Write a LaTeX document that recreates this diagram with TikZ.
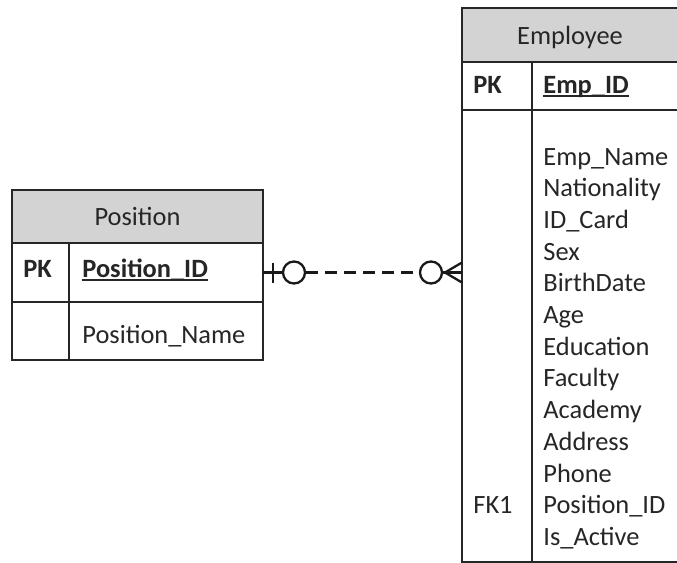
\documentclass[tikz,border=0pt]{standalone}
\usepackage{fontspec}
\setmainfont{Carlito}
\usetikzlibrary{positioning,calc}
\definecolor{hdrgray}{HTML}{D3D3D3}
\definecolor{inkgray}{HTML}{262626}

\begin{document}
\begin{tikzpicture}[
    x=0.5pt, y=-0.5pt,
    every node/.style={text=inkgray, font=\fontsize{13.2}{15.9}\selectfont},
    box/.style={draw=black!85, line width=1pt, inner sep=0pt, outer sep=0pt},
    head/.style={box, fill=hdrgray, text depth=0pt},
    keytag/.style={anchor=base west, inner sep=0pt, font=\fontsize{13.2}{15.9}\selectfont\bfseries},
    field/.style={anchor=base west, inner sep=0pt},
    keyrule/.style={line width=0.8pt, inkgray},
    rel/.style={line width=1.15pt, black!90},
    ring/.style={circle, draw=black!90, line width=1.15pt, fill=white, minimum size=11pt, inner sep=0pt}
]
\fill[white] (0,0) rectangle (677,563);
\useasboundingbox (0,0) rectangle (677,563);

% Position
\node[head, minimum width=125.5pt, minimum height=26.5pt] (posHead) at (137.5,216.5) {Position};
\node[box, minimum width=125.5pt, minimum height=29.5pt, below=0pt of posHead] (posRow) {};
\node[box, minimum width=125.5pt, minimum height=29pt, below=0pt of posRow] (posRest) {};
\draw[box] ([xshift=28.5pt]posRow.north west) -- ([xshift=28.5pt]posRest.south west);

\node[keytag] (posPK) at (23,277) {PK};
\node[keytag] (posID) at (82,277) {Position\_ID};
\draw[keyrule] ([yshift=-1.6pt]posID.base west) -- ([yshift=-1.6pt]posID.base east);
\node[field] (posName) at (82,343) {Position\_Name};

% Employee
\node[head, minimum width=108pt, minimum height=27pt, anchor=north west] (empHead) at (462,8) {Employee};
\node[box, minimum width=108pt, minimum height=24pt, below=0pt of empHead] (empRow) {};
\node[box, minimum width=108pt, minimum height=226pt, below=0pt of empRow] (empRest) {};
\draw[box] ([xshift=35pt]empHead.south west) -- ([xshift=35pt]empRest.south west);

\node[keytag] (empPK) at (473,93) {PK};
\node[keytag] (empID) at (543,93) {Emp\_ID};
\draw[keyrule] ([yshift=-1.6pt]empID.base west) -- ([yshift=-1.6pt]empID.base east);
\foreach \f [count=\i] in {Emp\_Name, Nationality, ID\_Card, Sex, BirthDate, Age,
    Education, Faculty, Academy, Address, Phone, Position\_ID, Is\_Active}
  \node[field] (empF\i) at (543,{165+31.7*(\i-1)}) {\f};
\node[field] (empFK) at (473,0 |- empF12.base) {FK1};

% relation
\node[ring] (oneRing) at (294,272.5) {};
\node[ring] (manyRing) at (431,272.5) {};
\coordinate (footTip) at (445,272.5);
\coordinate (footEnd) at (footTip -| empRest.west);
\draw[rel] (posRow.east) -- (oneRing);
\draw[rel] ([xshift=5pt,yshift=5pt]posRow.east) -- ([xshift=5pt,yshift=-5pt]posRow.east);
\draw[rel, dash pattern=on 6pt off 3.5pt] (oneRing) -- (manyRing);
\draw[rel] (manyRing) -- (footEnd);
\draw[rel] ($(footEnd)+(0,-10)$) -- (footTip) -- ($(footEnd)+(0,10)$);

\end{tikzpicture}
\end{document}
